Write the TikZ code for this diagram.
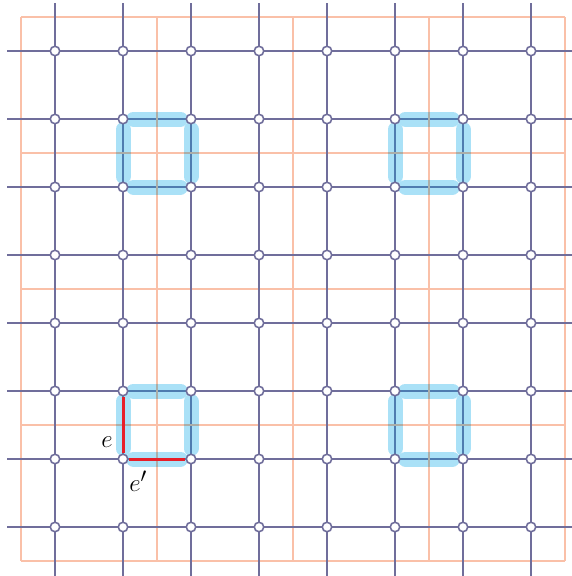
\documentclass[tikz,border=0pt]{standalone}
\definecolor{gridc}{RGB}{112,110,155}
\definecolor{orangec}{RGB}{250,192,168}
\definecolor{bluec}{RGB}{170,225,247}
\definecolor{bluedark}{RGB}{78,124,176}
\definecolor{blueorange}{RGB}{172,174,168}
\definecolor{redc}{RGB}{232,30,40}
\tikzset{
  orangeline/.style={draw=orangec, line width=1.4pt},
  darkline/.style={draw=gridc, line width=2.8pt},
  blueedge/.style={draw=bluec, line width=15pt, line cap=round},
  bluedarkline/.style={draw=bluedark, line width=2.8pt},
  blueorangeline/.style={draw=blueorange, line width=1.4pt},
  vtx/.style={circle, draw=gridc, fill=white, line width=1.6pt, inner sep=0pt, minimum size=9.5pt},
  rededge/.style={draw=redc, line width=3pt},
  lab/.style={font=\fontsize{29}{32}\selectfont, inner sep=0pt}
}
\newcommand\plaq[2]{%
  \draw[blueedge] (#1+10.5,#2) -- (#1+57.5,#2);
  \draw[blueedge] (#1+10.5,#2+68) -- (#1+57.5,#2+68);
  \draw[blueedge] (#1,#2+10.5) -- (#1,#2+57.5);
  \draw[blueedge] (#1+68,#2+10.5) -- (#1+68,#2+57.5);
  \draw[bluedarkline] (#1,#2) -- (#1+68,#2) -- (#1+68,#2+68) -- (#1,#2+68) -- cycle;
  \draw[blueorangeline] (#1+34,#2-7.5) -- (#1+34,#2+7.5);
  \draw[blueorangeline] (#1+34,#2+60.5) -- (#1+34,#2+75.5);
  \draw[blueorangeline] (#1-7.5,#2+34) -- (#1+7.5,#2+34);
  \draw[blueorangeline] (#1+60.5,#2+34) -- (#1+75.5,#2+34);
}
\begin{document}
\begin{tikzpicture}[x=1pt,y=-1pt]
\useasboundingbox (0,0) rectangle (572,576);
\clip (0,0) rectangle (572,576);
% orange grid
\foreach \i in {0,...,4} {
  \draw[orangeline] (21+136*\i,17) -- (21+136*\i,561);
  \draw[orangeline] (21,17+136*\i) -- (565,17+136*\i);
}
% dark grid
\foreach \i in {0,...,7} {
  \draw[darkline] (55+68*\i,3.4) -- (55+68*\i,580);
  \draw[darkline] (7.4,51+68*\i) -- (580,51+68*\i);
}
% highlighted plaquettes
\plaq{123}{119}
\plaq{395}{119}
\plaq{123}{391}
\plaq{395}{391}
% vertices
\foreach \i in {0,...,7} {
  \foreach \j in {0,...,7} {
    \node[vtx] (v-\i-\j) at (55+68*\i,51+68*\j) {};
  }
}
% red edges
\draw[rededge] (v-1-5) -- (v-1-6);
\draw[rededge] (v-1-6) -- (v-2-6);
% labels
\node[lab] (le) at (107,442) {$e$};
\node[lab] (lep) at (138,481) {$e'$};
\end{tikzpicture}
\end{document}
